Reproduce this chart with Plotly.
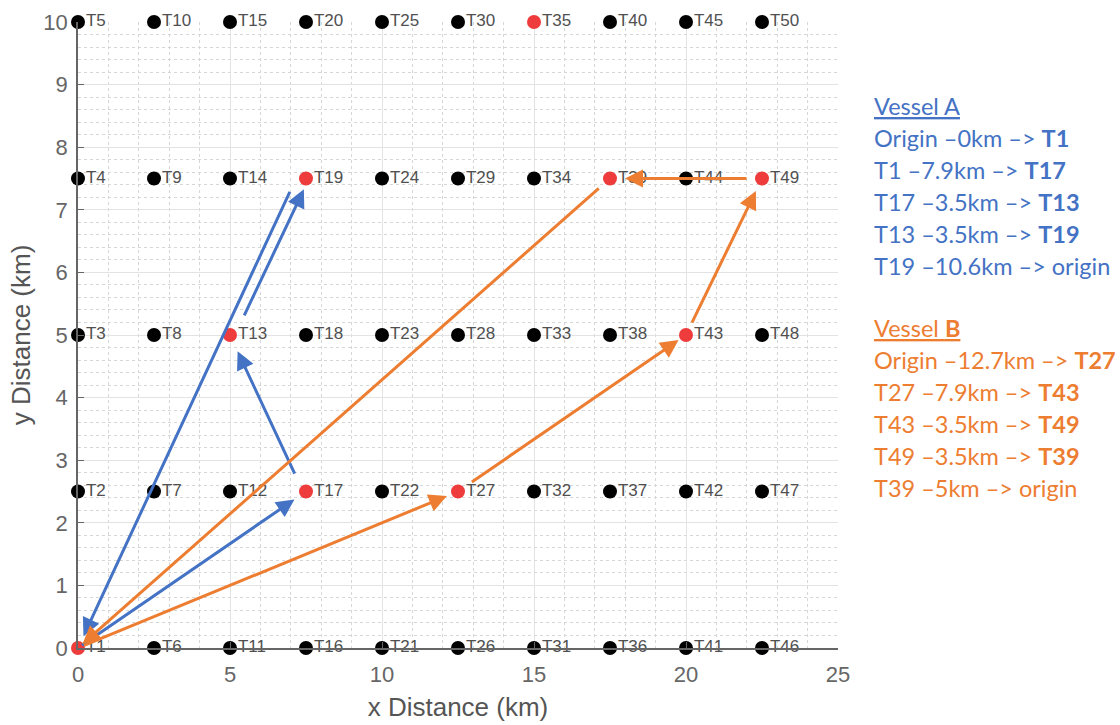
import plotly.graph_objects as go

# Turbine layout: 10 columns x 5 rows, numbered up each column
col_x_km = [0, 2.5, 5, 7.5, 10, 12.5, 15, 17.5, 20, 22.5]
row_y_km = [0, 2.5, 5, 7.5, 10]

# Turbines visited by the two vessels
visited = ["T1", "T13", "T17", "T19", "T27", "T35", "T39", "T43", "T49"]

# Vessel routes (turbine sequence, returning to origin at T1)
route_a = ["T1", "T17", "T13", "T19", "T1"]
route_b = ["T1", "T27", "T43", "T49", "T39", "T1"]

# Route legs as written in the side panels
legs_a = [("Origin", "0km", "T1"), ("T1", "7.9km", "T17"), ("T17", "3.5km", "T13"),
          ("T13", "3.5km", "T19"), ("T19", "10.6km", "origin")]
legs_b = [("Origin", "12.7km", "T27"), ("T27", "7.9km", "T43"), ("T43", "3.5km", "T49"),
          ("T49", "3.5km", "T39"), ("T39", "5km", "origin")]

BLUE = "#4472C4"
ORANGE = "#ED7D31"
RED = "#EE3B3B"

# Arrow styling per leg: (tail gap px, head gap px, tail x-shift px, head x-shift px)
style_a = [(3, 14, 0, 0), (18, 18, -3, 0), (20, 12, 5, 3), (13, 13, -10, 0)]
style_b = [(5, 12, 0, 0), (15, 9, 0, 0), (12, 14, 0, 0), (14, 15, 0, 0), (13, 6, 0, 0)]

MARGIN = dict(l=78, r=282, t=22, b=77)
WIDTH, HEIGHT = 1120, 725
X_RANGE, Y_RANGE = [0, 25], [0, 10]
px_per_km_x = (WIDTH - MARGIN["l"] - MARGIN["r"]) / (X_RANGE[1] - X_RANGE[0])

names, xs, ys = [], [], []
for ci, cx in enumerate(col_x_km):
    for ri, ry in enumerate(row_y_km):
        names.append(f"T{ci * 5 + ri + 1}")
        xs.append(cx)
        ys.append(ry)
pos = {n: (x, y) for n, x, y in zip(names, xs, ys)}

label_font = dict(family="Liberation Sans, Arial", size=17, color="#505050")

fig = go.Figure()
# turbine name labels (drawn under the markers); invisible marker sets the text offset
fig.add_trace(go.Scatter(
    x=xs, y=ys, mode="markers+text", text=names, textposition="middle right",
    textfont=label_font, marker=dict(size=11, color="rgba(0,0,0,0)"),
    cliponaxis=False, showlegend=False, hoverinfo="skip",
))
# turbine markers
fig.add_trace(go.Scatter(
    x=xs, y=ys, mode="markers", text=names,
    marker=dict(size=14, color=[RED if n in visited else "black" for n in names],
                line=dict(width=0)),
    cliponaxis=False, showlegend=False, hoverinfo="text",
))

annotations = []


def add_route(route, styles, color):
    for (a, b), (g0, g1, s0, s1) in zip(zip(route[:-1], route[1:]), styles):
        (x0, y0), (x1, y1) = pos[a], pos[b]
        annotations.append(dict(
            x=x1 + s1 / px_per_km_x, y=y1, ax=x0 + s0 / px_per_km_x, ay=y0,
            xref="x", yref="y", axref="x", ayref="y",
            showarrow=True, arrowhead=2, arrowsize=1.2, arrowwidth=3,
            arrowcolor=color, standoff=g1, startstandoff=g0, text="",
        ))


add_route(route_a, style_a, BLUE)
add_route(route_b, style_b, ORANGE)

plot_w = WIDTH - MARGIN["l"] - MARGIN["r"]
plot_h = HEIGHT - MARGIN["t"] - MARGIN["b"]


def panel(title, legs, color, top_px, step_px=32):
    lines = [title] + [f"{a} \u2013{d} \u2013> " + (f"<b>{b}</b>" if b != "origin" else b)
                       for a, d, b in legs]
    for i, t in enumerate(lines):
        ypix = top_px + i * step_px
        annotations.append(dict(
            x=(872 - MARGIN["l"]) / plot_w, y=(HEIGHT - MARGIN["b"] - ypix) / plot_h,
            xref="paper", yref="paper", xanchor="left", yanchor="middle",
            showarrow=False, text=t, align="left",
            font=dict(family="Lato, Open Sans", size=23.5, color=color),
        ))


panel("<u>Vessel A</u>", legs_a, BLUE, 106)
panel("<u>Vessel <b>B</b></u>", legs_b, ORANGE, 328)

axis_common = dict(
    showline=True, linecolor="#666666", linewidth=1.5, ticks="inside", ticklen=6,
    tickcolor="#666666", showgrid=True, gridcolor="#E3E3E3", gridwidth=1.2,
    zeroline=False, automargin=False,
    tickfont=dict(family="Liberation Sans, Arial", size=22, color="#666666"),
    title_font=dict(family="Liberation Sans, Arial", size=26, color="#555555"),
)

fig.update_layout(
    width=WIDTH, height=HEIGHT, margin=MARGIN,
    paper_bgcolor="white", plot_bgcolor="white",
    xaxis=dict(range=X_RANGE, dtick=5, title_text="x Distance (km)", title_standoff=12,
               ticklabelstandoff=6,
               minor=dict(dtick=1, showgrid=True, gridcolor="#D6D6D6", griddash="dot",
                          gridwidth=1), **axis_common),
    yaxis=dict(range=Y_RANGE, dtick=1, title_text="y Distance (km)", title_standoff=5,
               ticklabelstandoff=4,
               minor=dict(dtick=0.2, showgrid=True, gridcolor="#D6D6D6", griddash="dot",
                          gridwidth=1), **axis_common),
    annotations=annotations,
)

fig.write_html("out.html")
